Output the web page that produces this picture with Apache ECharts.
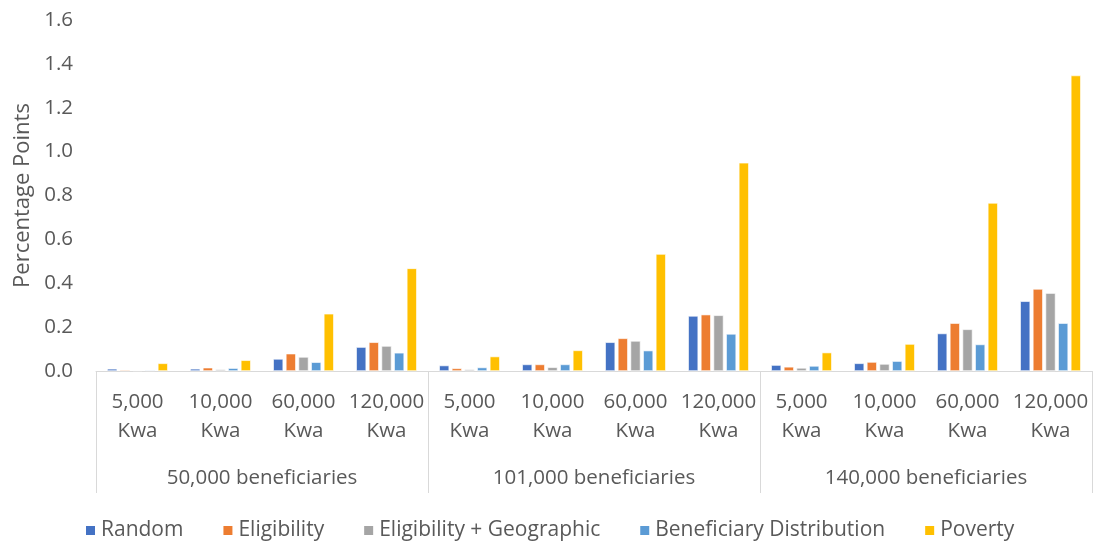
<!DOCTYPE html>
<html>
<head>
<meta charset="utf-8">
<script src="https://cdn.jsdelivr.net/npm/echarts@6/dist/echarts.min.js"></script>
<style>
  html, body { margin: 0; padding: 0; background: #ffffff; }
  #chart { width: 1094px; height: 541px; }
</style>
</head>
<body>
<div id="chart"></div>
<script>
// Transfer sizes within each beneficiary scenario
const transferLabels = [
  '5,000\nKwa', '10,000\nKwa', '60,000\nKwa', '120,000\nKwa',
  '5,000\nKwa', '10,000\nKwa', '60,000\nKwa', '120,000\nKwa',
  '5,000\nKwa', '10,000\nKwa', '60,000\nKwa', '120,000\nKwa'
];
const scenarioLabels = ['50,000 beneficiaries', '101,000 beneficiaries', '140,000 beneficiaries'];

// Targeting methods (percentage points)
const random      = [0.010, 0.010, 0.055, 0.109, 0.025, 0.030, 0.131, 0.251, 0.027, 0.035, 0.171, 0.318];
const eligibility = [0.005, 0.015, 0.079, 0.131, 0.012, 0.030, 0.149, 0.257, 0.019, 0.041, 0.218, 0.374];
const eligGeo     = [0.003, 0.007, 0.064, 0.114, 0.007, 0.017, 0.137, 0.254, 0.014, 0.032, 0.190, 0.355];
const benefDist   = [0.004, 0.013, 0.040, 0.083, 0.016, 0.030, 0.093, 0.169, 0.023, 0.045, 0.121, 0.218];
const poverty     = [0.035, 0.049, 0.261, 0.468, 0.066, 0.094, 0.533, 0.949, 0.084, 0.123, 0.766, 1.347];

const seriesNames = ['Random', 'Eligibility', 'Eligibility + Geographic', 'Beneficiary Distribution', 'Poverty'];
const seriesData = [random, eligibility, eligGeo, benefDist, poverty];
const colors = ['#4472C4', '#ED7D31', '#A5A5A5', '#5B9BD5', '#FFC000'];

const FONT = 'Open Sans';
const TEXT = '#595959';
const LINE = '#D9D9D9';
const AXIS_SIZE = 20.5;

const chart = echarts.init(document.getElementById('chart'), null, { renderer: 'canvas' });

chart.setOption({
  animation: false,
  backgroundColor: '#ffffff',
  color: colors,
  textStyle: { fontFamily: FONT },
  grid: { left: 96, right: 2, top: 20, bottom: 170, containLabel: false },
  legend: {
    top: 515,
    left: 79,
    itemWidth: 11,
    itemHeight: 11,
    itemGap: 38,
    icon: 'rect',
    textStyle: { fontFamily: FONT, fontSize: 21, color: TEXT },
    data: seriesNames
  },
  xAxis: [
    {
      type: 'category',
      data: transferLabels,
      axisLine: { lineStyle: { color: LINE, width: 1 } },
      axisTick: { show: false },
      axisLabel: {
        interval: 0,
        margin: 17,
        fontFamily: FONT,
        fontSize: AXIS_SIZE,
        lineHeight: 29,
        color: TEXT
      }
    },
    {
      type: 'category',
      data: scenarioLabels,
      position: 'bottom',
      offset: 122,
      axisLine: { show: false },
      axisTick: {
        show: true,
        inside: true,
        length: 122,
        lineStyle: { color: LINE, width: 1 }
      },
      axisLabel: {
        inside: true,
        margin: 4,
        fontFamily: FONT,
        fontSize: AXIS_SIZE,
        color: TEXT
      }
    }
  ],
  yAxis: {
    type: 'value',
    min: 0,
    max: 1.6,
    interval: 0.2,
    name: 'Percentage Points',
    nameLocation: 'middle',
    nameGap: 62,
    nameRotate: 90,
    nameTextStyle: { fontFamily: FONT, fontSize: 22, color: TEXT },
    axisLine: { show: false },
    axisTick: { show: false },
    splitLine: { show: false },
    axisLabel: {
      margin: 23,
      fontFamily: FONT,
      fontSize: AXIS_SIZE,
      color: TEXT,
      formatter: v => v.toFixed(1)
    }
  },
  series: seriesNames.map((name, i) => ({
    name,
    type: 'bar',
    xAxisIndex: 0,
    data: seriesData[i],
    barGap: '27%',
    barCategoryGap: '27%',
    itemStyle: { color: colors[i], borderColor: '#ffffff', borderWidth: 0.6 }
  }))
});
</script>
</body>
</html>
